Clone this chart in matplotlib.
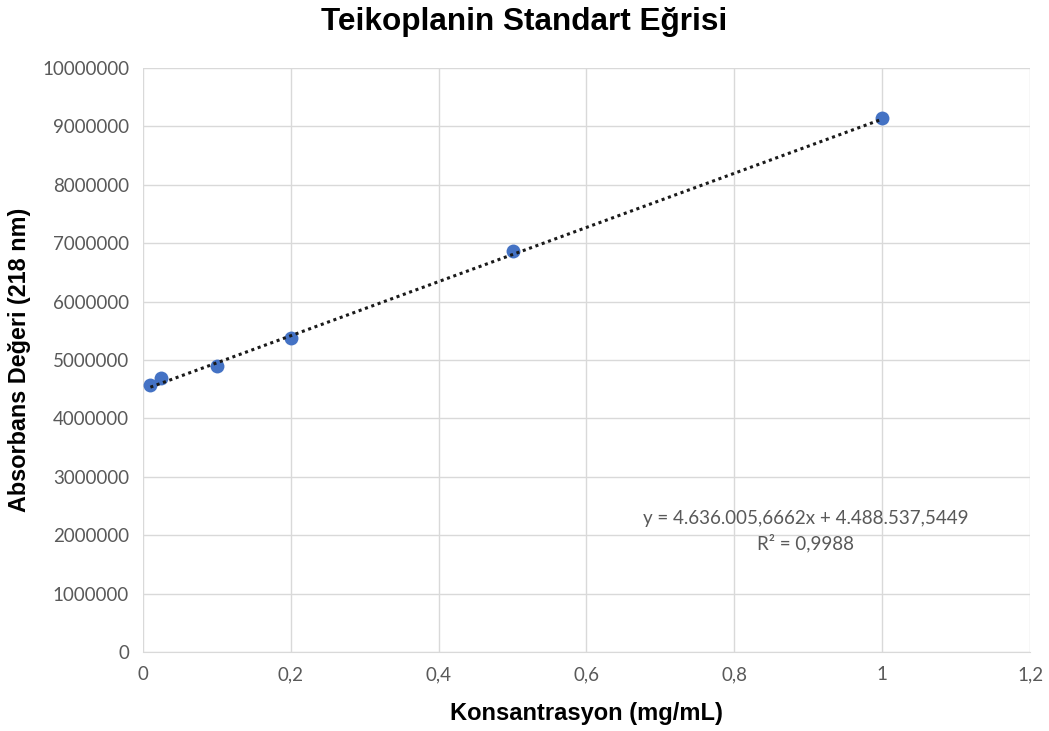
import matplotlib
matplotlib.use('Agg')
import matplotlib.pyplot as plt
from matplotlib.ticker import FuncFormatter, MultipleLocator

# Calibration standards
concentration = [0.01, 0.025, 0.1, 0.2, 0.5, 1.0]
absorbance = [4570000, 4700000, 4890000, 5370000, 6860000, 9140000]

# Linear trendline reported for the standards
slope = 4636005.6662
intercept = 4488537.5449
r_squared = 0.9988

GRID = '#D9D9D9'
TICK = '#595959'
POINT = '#4472C4'


def comma_decimal(v, pos=None):
    s = f'{v:.1f}'.rstrip('0').rstrip('.')
    return s.replace('.', ',')


def tr_number(v, decimals=4):
    whole, frac = f'{v:,.{decimals}f}'.split('.')
    return whole.replace(',', '.') + ',' + frac


fig = plt.figure(figsize=(10.49, 7.31), dpi=100)
ax = fig.add_axes([0.1363, 0.108, 0.8456, 0.799])

ax.scatter(concentration, absorbance, s=100, color=POINT, zorder=3, linewidths=0)

x_fit = [min(concentration), max(concentration)]
y_fit = [slope * x + intercept for x in x_fit]
ax.plot(x_fit, y_fit, color='#1a1a1a', linestyle=(0, (1, 1.2)), linewidth=2.2, zorder=4)

ax.set_xlim(0, 1.2)
ax.set_ylim(0, 10000000)
ax.xaxis.set_major_locator(MultipleLocator(0.2))
ax.yaxis.set_major_locator(MultipleLocator(1000000))
ax.xaxis.set_major_formatter(FuncFormatter(comma_decimal))
ax.yaxis.set_major_formatter(FuncFormatter(lambda v, p: f'{int(v)}'))

ax.grid(True, color=GRID, linewidth=1)
ax.set_axisbelow(True)
for side in ['top', 'right', 'left']:
    ax.spines[side].set_visible(False)
ax.spines['bottom'].set_color(GRID)
ax.tick_params(length=0, colors=TICK, labelsize=13.5, pad=10)
for lbl in ax.get_xticklabels() + ax.get_yticklabels():
    lbl.set_family('Lato')

ax.set_xlabel('Konsantrasyon (mg/mL)', fontsize=17, fontweight='bold',
              family='Liberation Sans', labelpad=14)
ax.set_ylabel('Absorbans Değeri (218 nm)', fontsize=16.8, fontweight='bold',
              family='Liberation Sans', labelpad=8)
fig.suptitle('Teikoplanin Standart Eğrisi', fontsize=22.7, fontweight='bold',
             family='Liberation Sans', y=0.99)

r2_text = f'{r_squared:.4f}'.replace('.', ',')
eq = f'y = {tr_number(slope)}x + {tr_number(intercept)}\nR² = {r2_text}'
ax.text(0.896, 2070000, eq, ha='center', va='center', fontsize=13.5,
        color=TICK, family='Lato', linespacing=1.45)

fig.savefig('out.png', dpi=100)
